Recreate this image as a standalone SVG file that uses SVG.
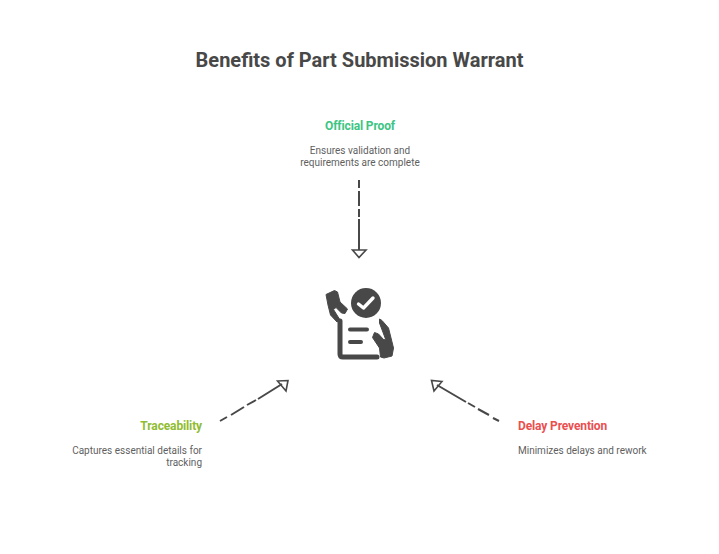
<svg xmlns="http://www.w3.org/2000/svg" width="719" height="554" viewBox="0 0 719 554">
<style>
text{font-family:Roboto,"Liberation Sans",sans-serif}
.t{font-size:20px;font-weight:700;fill:#484848}
.h{font-size:12px;font-weight:700;letter-spacing:-.13px}
.d{font-size:10px;fill:#5f5f5f}
.c{fill:none;stroke:#484848;stroke-width:2}
.a{fill:none;stroke:#484848;stroke-width:1.6}
.i{fill:#484848;stroke:#484848;stroke-width:1;stroke-linejoin:round}
</style>
<rect width="719" height="554" fill="#fff"/>
<text class="t" x="359.500" y="67" text-anchor="middle">Benefits of Part Submission Warrant</text>
<g id="connectors">
<path class="c" d="M359 180V188M359 191V206M359 209V217M359 219V250"/>
<path class="a" d="M352.500 250H366L359 257.500Z"/>
<path class="c" d="M220 421L227 417M231 415L244 407M247 405L256 400M258 399L282 384"/>
<path class="a" d="M277.500 381L288 380.500L286 391Z"/>
<path class="c" d="M499 421L493 418M489 415L478 409M475 407L468 403M466 402L437 385"/>
<path class="a" d="M442 381.500L431.500 380.500L434 391Z"/>
</g>
<g id="center-icon">
<circle cx="366" cy="303" r="15" fill="#484848"/>
<path d="M358.500 304L363.500 308L373 298" fill="none" stroke="#fff" stroke-width="3.400" stroke-linecap="round" stroke-linejoin="round"/>
<path d="M340 321V354Q340 357 343 357H377" fill="none" stroke="#484848" stroke-width="5" stroke-linecap="round" stroke-linejoin="round"/>
<path d="M350 329.500H367M350 342H361" fill="none" stroke="#484848" stroke-width="4" stroke-linecap="round"/>
<path class="i" d="M326 294.500L334.500 290.500L337.500 292L340 302L347.500 309L345 313.500L341.500 313L336 307.500L333.500 309.500L340 320L337 322L330.500 315L328 305Z"/>
<path class="i" d="M379.500 319L382 320.500L388.500 328L393.500 348L392 356L384 358L380.500 357L379.500 348L372.500 337.500L374.500 332.500L378.500 334L384 340L385.500 339L379.500 323Z"/>
</g>
<g id="node-official-proof">
<text class="h" x="360" y="130" text-anchor="middle" fill="#3cc583">Official Proof</text>
<text class="d" x="360" y="154" text-anchor="middle">Ensures validation and</text>
<text class="d" x="360" y="166" text-anchor="middle">requirements are complete</text>
</g>
<g id="node-traceability">
<text class="h" x="202" y="430" text-anchor="end" fill="#90bc32">Traceability</text>
<text class="d" x="202" y="454" text-anchor="end">Captures essential details for</text>
<text class="d" x="202" y="466" text-anchor="end">tracking</text>
</g>
<g id="node-delay-prevention">
<text class="h" x="518" y="430" fill="#ea5050">Delay Prevention</text>
<text class="d" x="518" y="454">Minimizes delays and rework</text>
</g>
</svg>
